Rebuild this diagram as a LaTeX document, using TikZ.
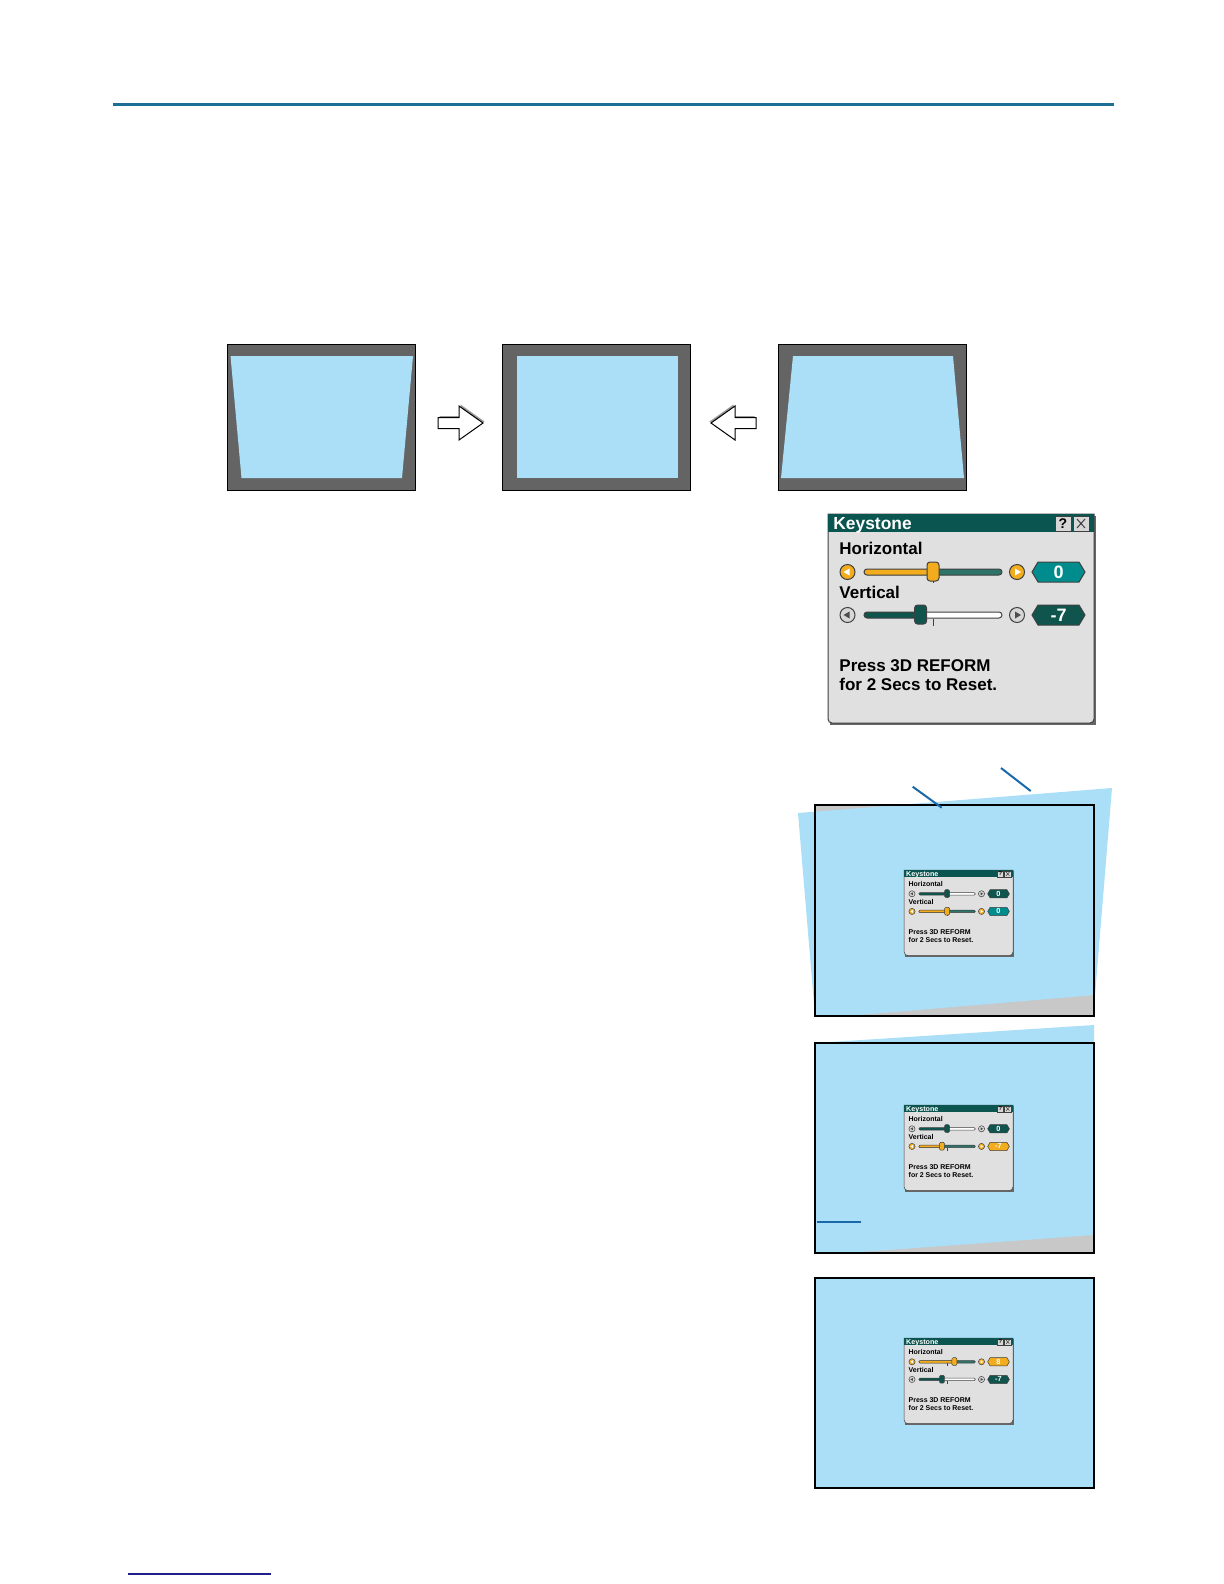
\documentclass[tikz,border=0pt]{standalone}
\usepackage{fontspec}
\newfontfamily\dlgfont{Liberation Sans}
\usetikzlibrary{positioning}

\definecolor{rulecol}{RGB}{30,110,150}
\definecolor{footcol}{RGB}{30,30,140}
\definecolor{scrblue}{RGB}{170,223,247}
\definecolor{scrgray}{RGB}{200,200,200}
\definecolor{paneldark}{RGB}{100,100,100}
\definecolor{callout}{RGB}{25,105,170}
\definecolor{ksttitle}{RGB}{10,85,80}
\definecolor{kstbody}{RGB}{224,224,224}
\definecolor{kstorange}{RGB}{243,172,30}
\definecolor{kstteal}{RGB}{45,115,105}
\definecolor{kstdark}{RGB}{15,85,78}
\definecolor{kstbright}{RGB}{0,140,140}
\definecolor{kstbtn}{RGB}{215,215,215}

\tikzset{
  dlgedge/.style={draw=black!75, line width=0.5pt},
  dlground/.style={rounded corners=1.5pt},
  dlgtext/.style={anchor=west, inner sep=0pt, font=\dlgfont\bfseries\fontsize{8.5}{9.75}\selectfont},
  dlgtitle/.style={anchor=west, inner sep=0pt, text=white, font=\dlgfont\bfseries\fontsize{8.7}{10}\selectfont},
  dlgval/.style={inner sep=0pt, text=white, font=\dlgfont\bfseries\fontsize{9}{10}\selectfont},
  dlgsym/.style={inner sep=0pt, font=\dlgfont\bfseries\fontsize{7}{8}\selectfont},
}

% one slider row: y, active (1/0), knob position (0..1), box colour, value, row id
\newcommand{\kstrow}[6]{%
  \pgfmathsetmacro{\knobx}{36+#3*138}
  \ifnum#2=1
    \def\lcol{kstorange}\def\rcol{kstteal}\def\bcol{kstorange}\def\kcol{kstorange}\def\acol{white}%
  \else
    \def\lcol{kstdark}\def\rcol{white}\def\bcol{kstbtn}\def\kcol{kstdark}\def\acol{black!70}%
  \fi
  \fill[\rcol, dlground] (36,#1-3) rectangle (174,#1+3);
  \fill[\lcol, dlground] (36,#1-3) rectangle (\knobx,#1+3);
  \draw[dlgedge, dlground] (36,#1-3) rectangle (174,#1+3);
  \draw[dlgedge] (105,#1+4) -- (105,#1+11);
  \filldraw[dlgedge, dlground, fill=\kcol] (\knobx-6,#1-10) rectangle (\knobx+6,#1+9);
  \filldraw[dlgedge, fill=\bcol] (19.5,#1) circle[radius=7.5];
  \fill[\acol] (15.5,#1) -- (21.5,#1-3.5) -- (21.5,#1+3.5) -- cycle;
  \filldraw[dlgedge, fill=\bcol] (189,#1) circle[radius=7.5];
  \fill[\acol] (193,#1) -- (187,#1-3.5) -- (187,#1+3.5) -- cycle;
  \filldraw[dlgedge, fill=#4] (204,#1) -- (210,#1-10) -- (251,#1-10) -- (257,#1)
    -- (251,#1+10) -- (210,#1+10) -- cycle;
  \node[dlgval] (\kname-#6) at (230.5,#1) {#5};
}

% dialog frame and texts
\newcommand{\kstframe}[1]{%
  \def\kname{#1}
  \fill[black!60] (2,2) rectangle (268,211);
  \filldraw[dlgedge, fill=kstbody] (0,0) -- (266,0) [rounded corners=2pt] -- (266,209) -- (0,209) [sharp corners] -- cycle;
  \fill[ksttitle] (0,0) rectangle (266,18);
  \node[dlgtitle] (#1-title) at (5,11) {Keystone};
  \filldraw[dlgedge, fill=kstbtn] (227,2) rectangle (243,17);
  \node[dlgsym] (#1-help) at (235,9.5) {?};
  \filldraw[dlgedge, fill=kstbtn] (245,2) rectangle (261,17);
  \draw[dlgedge] (249,5) -- (257,14) (249,14) -- (257,5);
  \node[dlgtext] (#1-horiz) at (11,34) {Horizontal};
  \node[dlgtext] (#1-vert) at (11,78) {Vertical};
  \node[dlgtext, align=left] (#1-hint) at (11,161) {Press 3D REFORM\\for 2 Secs to Reset.};
}

\newcommand{\arrowpath}{(0,-5.5) -- (21,-5.5) -- (21,-17) -- (45,0) -- (21,17) -- (21,5.5) -- (0,5.5) -- cycle}

\begin{document}
\begin{tikzpicture}[x=0.5pt, y=-0.5pt, line join=miter]
  \useasboundingbox (0,0) rectangle (1224,1584);
  \fill[white] (0,0) rectangle (1224,1584);

  % rules
  \draw[rulecol, line width=1.5pt] (113,105) -- (1114,105);
  \draw[footcol, line width=0.6pt] (128,1574) -- (271,1574);

  % keystone panels
  \filldraw[fill=paneldark, draw=black, line width=0.4pt] (227,344) rectangle (415,490);
  \fill[scrblue] (230.5,356) -- (413,356) -- (402,478) -- (241.5,478) -- cycle;
  \filldraw[fill=paneldark, draw=black, line width=0.4pt] (502.5,344) rectangle (690.5,490);
  \fill[scrblue] (517,356) rectangle (677.5,478);
  \filldraw[fill=paneldark, draw=black, line width=0.4pt] (778.5,344) rectangle (966.5,490);
  \fill[scrblue] (793,356) -- (953,356) -- (964,478) -- (781,478) -- cycle;

  % arrows between panels
  \begin{scope}[shift={(438,423)}]
    \fill[black!40, shift={(1.5,-1.5)}] \arrowpath;
    \filldraw[fill=white, draw=black, line width=0.5pt] \arrowpath;
  \end{scope}
  \begin{scope}[shift={(756,423)}, xscale=-1]
    \fill[black!40, shift={(1.5,-1.5)}] \arrowpath;
    \filldraw[fill=white, draw=black, line width=0.5pt] \arrowpath;
  \end{scope}

  % large dialog
  \begin{scope}[shift={(828,514)}]
    \kstframe{big}
    \kstrow{58}{1}{0.5}{kstbright}{0}{h}
    \kstrow{101}{0}{0.41}{kstdark}{-7}{v}
  \end{scope}

  % screen 1
  \fill[scrgray] (815,805) rectangle (1094,1016);
  \fill[scrblue] (798,813) -- (1112,788) -- (1095,995) -- (847,1016) -- (815,1016) -- cycle;
  \node[draw=black, line width=1pt, minimum width=139.5pt, minimum height=105.5pt, inner sep=0pt] (scr1) at (954.5,910.5) {};
  \coordinate (tip1) at (941.7,807.7);
  \coordinate (tip2) at (1030.7,791);
  \draw[callout, line width=1pt] (912.7,786.7) -- (tip1);
  \draw[callout, line width=1pt] (1001,768) -- (tip2);
  \begin{scope}[shift={(904,870)}, scale=0.41, transform shape]
    \tikzset{dlgedge/.style={draw=black!75, line width=0.25pt}, dlground/.style={rounded corners=0.6pt}}
    \kstframe{mini1}
    \kstrow{58}{0}{0.5}{kstdark}{0}{h}
    \kstrow{101}{1}{0.5}{kstbright}{0}{v}
  \end{scope}

  % screen 2
  \fill[scrgray] (815,1043) rectangle (1094,1253);
  \fill[scrblue] (815,1043) -- (1094,1025) -- (1094,1235) -- (847,1253) -- (815,1253) -- cycle;
  \node[draw=black, line width=1pt, minimum width=139.5pt, minimum height=105pt, inner sep=0pt] (scr2) at (954.5,1148) {};
  \coordinate (mark) at (861,1221.5);
  \draw[callout, line width=1pt] (817,1221.5) -- (mark);
  \begin{scope}[shift={(904,1105)}, scale=0.41, transform shape]
    \tikzset{dlgedge/.style={draw=black!75, line width=0.25pt}, dlground/.style={rounded corners=0.6pt}}
    \kstframe{mini2}
    \kstrow{58}{0}{0.5}{kstdark}{0}{h}
    \kstrow{101}{1}{0.41}{kstorange}{-7}{v}
  \end{scope}

  % screen 3
  \node[draw=black, fill=scrblue, line width=1pt, minimum width=139.5pt, minimum height=105pt, inner sep=0pt] (scr3) at (954.5,1382.5) {};
  \begin{scope}[shift={(904,1338)}, scale=0.41, transform shape]
    \tikzset{dlgedge/.style={draw=black!75, line width=0.25pt}, dlground/.style={rounded corners=0.6pt}}
    \kstframe{mini3}
    \kstrow{58}{1}{0.63}{kstorange}{8}{h}
    \kstrow{101}{0}{0.41}{kstdark}{-7}{v}
  \end{scope}
\end{tikzpicture}
\end{document}
